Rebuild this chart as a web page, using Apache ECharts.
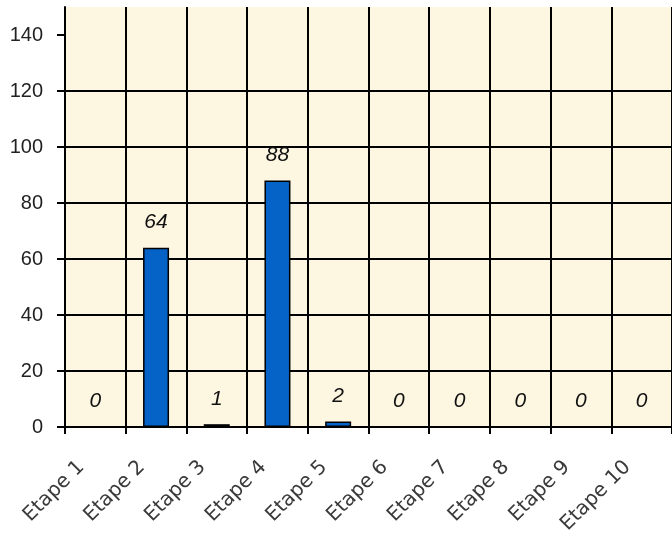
<!DOCTYPE html>
<html><head><meta charset="utf-8">
<script src="https://cdn.jsdelivr.net/npm/echarts@6/dist/echarts.min.js"></script>
<style>html,body{margin:0;padding:0;background:#fff}#c{width:672px;height:538px}</style>
</head><body><div id="c"></div>
<script>
var categories = ['Etape 1','Etape 2','Etape 3','Etape 4','Etape 5','Etape 6','Etape 7','Etape 8','Etape 9','Etape 10'];
var values = [0, 64, 1, 88, 2, 0, 0, 0, 0, 0];
var yTicks = [0, 20, 40, 60, 80, 100, 120, 140];

var chart = echarts.init(document.getElementById('c'));
chart.setOption({
  animation: false,
  grid: {left: 65, top: 7, width: 609, bottom: 111, show: true, backgroundColor: '#FDF6E0', borderWidth: 0},
  xAxis: {
    type: 'category', data: categories, boundaryGap: true,
    axisLine: {show: true, lineStyle: {color: '#000', width: 2}},
    axisTick: {show: true, length: 7, interval: 0, lineStyle: {color: '#000', width: 2}},
    splitLine: {show: true, interval: 0, lineStyle: {color: '#000', width: 2}},
    axisLabel: {interval: 0, rotate: 45, margin: 23, padding: [0, 20, 0, 0], color: '#3a3a3a',
      fontFamily: 'DejaVu Sans', fontSize: 20}
  },
  yAxis: {
    type: 'value', min: 0, max: 150, interval: 20,
    axisLine: {show: true, lineStyle: {color: '#000', width: 2}},
    axisTick: {show: true, length: 8, customValues: yTicks, lineStyle: {color: '#000', width: 2}},
    splitLine: {show: true, showMaxLine: false, lineStyle: {color: '#000', width: 2}},
    axisLabel: {customValues: yTicks, margin: 22, color: '#222', fontFamily: 'Liberation Sans', fontSize: 20}
  },
  series: [{
    type: 'bar', data: values, barWidth: 26,
    itemStyle: {color: '#0563C8', borderColor: '#000', borderWidth: 1.5},
    label: {show: true, position: 'top', distance: 15, fontStyle: 'italic', fontFamily: 'Liberation Sans', fontSize: 21, color: '#111'}
  }]
});
</script></body></html>
